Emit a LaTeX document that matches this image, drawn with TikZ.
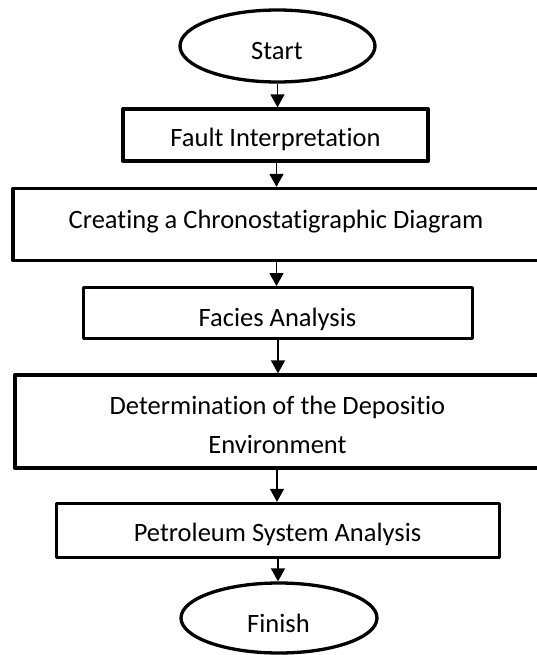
\documentclass[tikz,border=0pt]{standalone}
\usepackage{fontspec}
\setmainfont{Carlito}[Ligatures=NoCommon]
\usetikzlibrary{arrows.meta,shapes.geometric}
\begin{document}
\begin{tikzpicture}[x=1pt,y=-1pt,
  box/.style={draw=black,line width=3.3pt,line join=round,inner sep=0pt,fill=white},
  oval/.style={draw=black,line width=3.3pt,ellipse,inner sep=0pt,fill=white},
  lbl/.style={anchor=base,inner sep=0pt,font=\fontsize{26.5}{30}\selectfont},
  flow/.style={line width=1.6pt,-{Triangle[width=14pt,length=13pt]}}]
\useasboundingbox[fill=white] (0,0) rectangle (537,655);
\begin{scope}
\clip (0,0) rectangle (537,655);
% shapes
\node[oval,minimum width=195,minimum height=72] (start) at (277.5,46) {};
\node[box,minimum width=305,minimum height=52] (fault) at (275.5,135) {};
\node[box,minimum width=527,minimum height=72] (chrono) at (276.5,224.5) {};
\node[box,minimum width=389,minimum height=50.5] (facies) at (278,313) {};
\node[box,minimum width=524,minimum height=93] (determ) at (277,421.5) {};
\node[box,minimum width=443,minimum height=54] (petro) at (278,530.5) {};
\node[oval,minimum width=196,minimum height=70] (finish) at (279,618) {};
% labels
\node[lbl] (tstart) at (277,60) {Start};
\node[lbl] (tfault) at (275.5,147) {Fault Interpretation};
\node[lbl] (tchrono) at (276,228) {Creating a Chronostatigraphic Diagram};
\begin{scope}
  \clip (facies.north west) rectangle ([yshift=-7pt]facies.south east);
  \node[lbl] (tfacies) at (277.5,326) {Facies Analysis};
\end{scope}
\node[lbl] (tdet1) at (277.5,414) {Determination of the Depositio};
\node[lbl] (tdet2) at (277.5,453) {Environment};
\node[lbl] (tpetro) at (277.5,541) {Petroleum System Analysis};
\node[lbl] (tfinish) at (278.5,632) {Finish};
% connectors
\draw[flow] (start.south) -- (start.south |- fault.north);
\draw[flow] ([xshift=1pt]fault.south) -- ([xshift=1pt]fault.south |- chrono.north);
\draw[flow] (chrono.south) -- (chrono.south |- facies.north);
\draw[flow] (facies.south) -- (facies.south |- determ.north);
\draw[flow] (determ.south) -- (determ.south |- petro.north);
\draw[flow] (petro.south) -- (petro.south |- finish.north);
\end{scope}
\end{tikzpicture}
\end{document}
